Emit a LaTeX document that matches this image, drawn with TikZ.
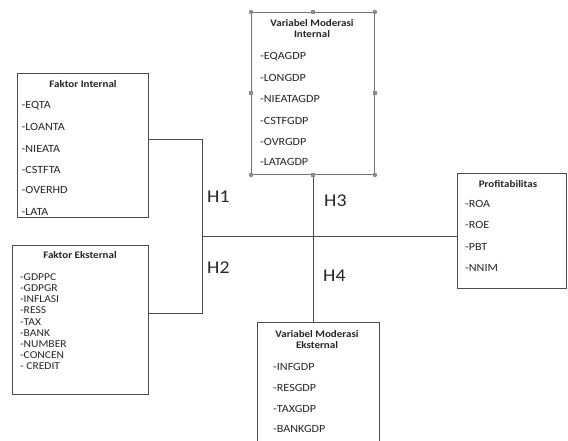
\documentclass[tikz,border=0pt]{standalone}
\usepackage{fontspec}
\setmainfont[FakeStretch=1.1]{Carlito}
\begin{document}
\begin{tikzpicture}[x=1pt,y=-1pt,
  box/.style={draw=black!70, line width=0.9pt, fill=white, anchor=north west, inner sep=0},
  ttl/.style={font=\fontsize{10}{11}\selectfont\bfseries, text=black!85, inner sep=0, align=center},
  itm/.style={font=\fontsize{11}{12}\selectfont, text=black!85, inner sep=0, anchor=west},
  itms/.style={font=\fontsize{10.5}{11}\selectfont, text=black!85, inner sep=0, anchor=west},
  hl/.style={font=\fontsize{18}{20}\selectfont, text=black!85, inner sep=0, anchor=west},
  wire/.style={draw=black!70, line width=0.9pt},
  hcirc/.style={circle, fill=black!45, inner sep=0, minimum size=4.5pt},
  hsq/.style={rectangle, fill=black!45, inner sep=0, minimum size=4pt}]
\clip (0,0) rectangle (568,440);
\fill[white] (0,0) rectangle (568,440);

% boxes
\node[box, minimum width=131pt, minimum height=144pt] (fi) at (17,73) {};
\node[box, minimum width=136pt, minimum height=149pt] (fe) at (12,245) {};
\node[box, draw=black!55, minimum width=123pt, minimum height=162pt] (mi) at (251,12) {};
\node[box, minimum width=122pt, minimum height=130pt] (me) at (257,322) {};
\node[box, minimum width=109pt, minimum height=115pt] (pr) at (457,173) {};

% Faktor Internal
\node[ttl] (fit) at (83,84) {Faktor Internal};
\node[itm] (fi1) at (21.5,106) {-EQTA};
\node[itm] (fi2) at (21.5,127) {-LOANTA};
\node[itm] (fi3) at (21.5,149) {-NIEATA};
\node[itm] (fi4) at (21.5,170) {-CSTFTA};
\node[itm] (fi5) at (21.5,190) {-OVERHD};
\node[itm] (fi6) at (21.5,212) {-LATA};

% Faktor Eksternal
\node[ttl] (fet) at (80,255) {Faktor Eksternal};
\node[itms] (fe1) at (20,277) {-GDPPC};
\node[itms] (fe2) at (20,288.2) {-GDPGR};
\node[itms] (fe3) at (20,299.4) {-INFLASI};
\node[itms] (fe4) at (20,310.6) {-RESS};
\node[itms] (fe5) at (20,321.8) {-TAX};
\node[itms] (fe6) at (20,333) {-BANK};
\node[itms] (fe7) at (20,344.2) {-NUMBER};
\node[itms] (fe8) at (20,355.4) {-CONCEN};
\node[itms] (fe9) at (20,366.6) {- CREDIT};

% Moderasi Internal
\node[ttl] (mit1) at (312,23) {Variabel Moderasi};
\node[ttl] (mit2) at (312,34) {Internal};
\node[itm] (mi1) at (260,57) {-EQAGDP};
\node[itm] (mi2) at (260,78) {-LONGDP};
\node[itm] (mi3) at (260,99) {-NIEATAGDP};
\node[itm] (mi4) at (260,121) {-CSTFGDP};
\node[itm] (mi5) at (260,142) {-OVRGDP};
\node[itm] (mi6) at (260,162) {-LATAGDP};

% handles
\node[hcirc] (h1) at (mi.north west) {};
\node[hcirc] (h2) at (mi.north east) {};
\node[hcirc] (h3) at (mi.south west) {};
\node[hcirc] (h4) at (mi.south east) {};
\node[hsq] (h5) at (mi.north) {};
\node[hsq] (h6) at (mi.south) {};
\node[hsq] (h7) at (mi.west) {};
\node[hsq] (h8) at (mi.east) {};

% Moderasi Eksternal
\node[ttl] (met1) at (317,334) {Variabel Moderasi};
\node[ttl] (met2) at (317,345) {Eksternal};
\node[itm] (me1) at (273,367) {-INFGDP};
\node[itm] (me2) at (273,388) {-RESGDP};
\node[itm] (me3) at (273,409) {-TAXGDP};
\node[itm] (me4) at (273,429) {-BANKGDP};

% Profitabilitas
\node[ttl] (prt) at (508,184) {Profitabilitas};
\node[itm] (pr1) at (465,204) {-ROA};
\node[itm] (pr2) at (465,225) {-ROE};
\node[itm] (pr3) at (465,247) {-PBT};
\node[itm] (pr4) at (465,268) {-NNIM};

% connectors
\coordinate (j1) at (202,139);
\coordinate (j2) at (202,313);
\coordinate (j0) at (202,236);
\draw[wire] (fi.east |- j1) -- (j1) -- (j2) -- (fe.east |- j2);
\draw[wire] (j0) -- (pr.west |- j0);
\draw[wire] (h6) -- (h6 |- me.north);

% hypothesis labels
\node[hl] (H1) at (207,197) {H1};
\node[hl] (H2) at (207,268) {H2};
\node[hl] (H3) at (324,201) {H3};
\node[hl] (H4) at (323,276) {H4};
\end{tikzpicture}
\end{document}
